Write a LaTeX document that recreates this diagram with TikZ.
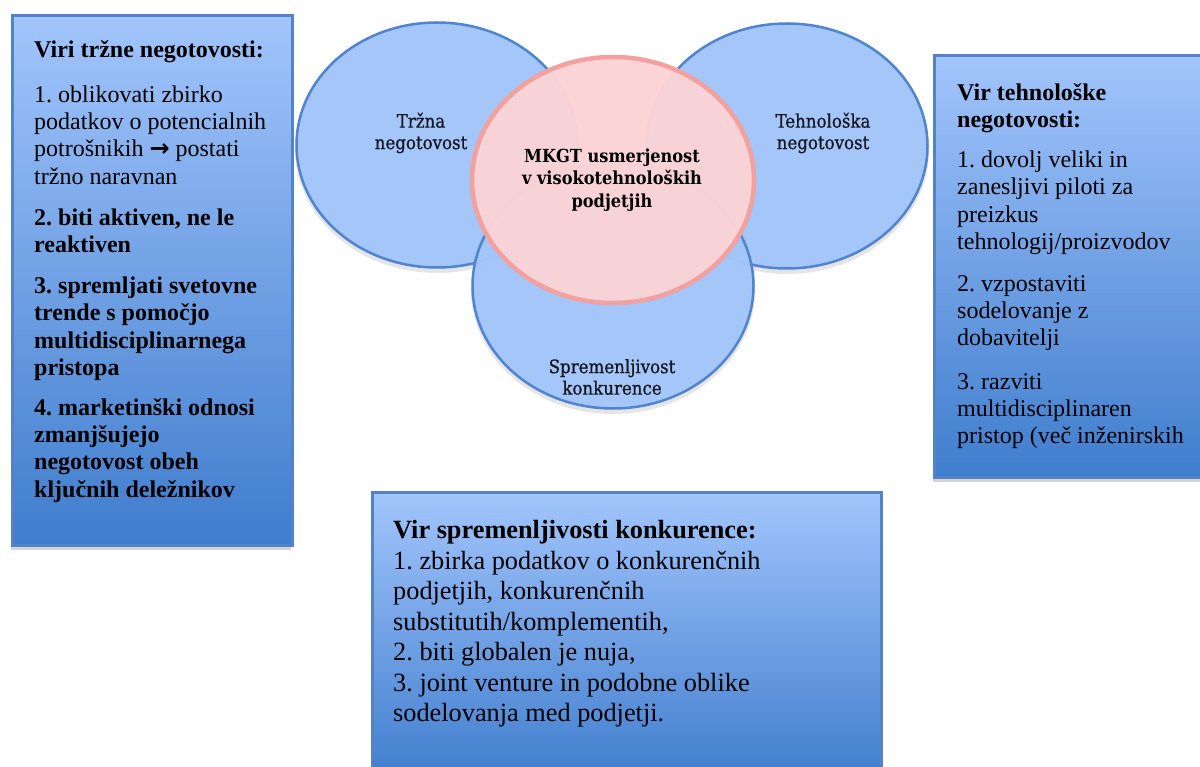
\documentclass[tikz,border=0pt]{standalone}
\usepackage{fontspec}
\setmainfont{Liberation Serif}
\newfontfamily\circfont[FakeBold=0.7]{DejaVu Serif Condensed}
\newfontfamily\corefont{DejaVu Serif Condensed}
\newfontfamily\arrowfont{DejaVu Sans}
\usetikzlibrary{shapes.geometric}
\frenchspacing

\definecolor{boxtop}{HTML}{A2C5FC}
\definecolor{boxbot}{HTML}{3F7DCD}
\definecolor{boxedge}{HTML}{5183C6}
\definecolor{vennfill}{HTML}{A3C6F9}
\definecolor{vennedge}{HTML}{4F84D2}
\definecolor{corefill}{HTML}{FAD3D6}
\definecolor{coreedge}{HTML}{F2A19F}
\definecolor{stripgray}{HTML}{D4D4D4}
\definecolor{labelink}{HTML}{15161F}

\tikzset{
  srcbox/.style={rectangle, draw=boxedge, line width=3pt, top color=boxtop,
    bottom color=boxbot, inner sep=0pt, anchor=north west},
  strip/.style={rectangle, fill=stripgray, inner sep=0pt, anchor=north west},
  srctext/.style={anchor=north west, inner sep=0pt, align=left,
    font=\fontsize{24}{27.2}\selectfont},
  bigtext/.style={anchor=north west, inner sep=0pt, align=left,
    font=\fontsize{26.3}{30.5}\selectfont},
  vennshadow/.style={ellipse, fill=black, fill opacity=0.10, inner sep=0pt,
    minimum width=284pt, minimum height=248pt},
  venn/.style={ellipse, draw=vennedge, line width=2.5pt, fill=vennfill,
    fill opacity=0.98, inner sep=0pt, minimum width=281pt, minimum height=245pt},
  core/.style={ellipse, draw=coreedge, line width=4.5pt, fill=corefill,
    fill opacity=0.975, draw opacity=1, inner sep=0pt, minimum width=282pt, minimum height=246pt},
  vennlabel/.style={align=center, inner sep=0pt, text=labelink,
    font=\circfont\fontsize{18.5}{21.5}\selectfont},
  corelabel/.style={align=center, inner sep=0pt, text=black,
    font=\corefont\bfseries\fontsize{18}{22.5}\selectfont},
}

\begin{document}
\begin{tikzpicture}[x=1pt,y=-1pt]
\useasboundingbox[fill=white] (0,0) rectangle (1200,767);

% soft shadows below the circles
\node[vennshadow] (trznash) at (437,149) {};
\node[vennshadow] (tehnosh) at (787,150) {};
\node[vennshadow] (konksh) at (613,290) {};

% three overlapping circles and the central one
\node[venn] (trzna) at (437,145) {};
\node[venn] (tehno) at (787,146) {};
\node[venn] (konk) at (613,286) {};
\node[core] (mkgt) at (613,180) {};

\node[vennlabel] (trznalbl) at (421,133) {Tržna\\negotovost};
\node[vennlabel] (tehnolbl) at (823,133) {Tehnološka\\negotovost};
\node[vennlabel] (konklbl) at (612,377) {Spremenljivost\\konkurence};
\node[corelabel] (mkgtlbl) at (612,180) {MKGT usmerjenost\\v visokotehnoloških\\podjetjih};

% market uncertainty box
\node[strip, minimum width=280pt, minimum height=5pt] (trzstrip) at (11,545) {};
\node[srcbox, minimum width=280pt, minimum height=530pt] (trzbox) at (11,14) {};
\node[srctext] (trztext) at (34,38) {\strut\textbf{Viri tržne negotovosti:}\\[18pt]
1. oblikovati zbirko\\
podatkov o potencialnih\\
potrošnikih {\arrowfont\bfseries →} postati\\
tržno naravnan\\[14pt]
\textbf{2. biti aktiven, ne le}\\
\textbf{reaktiven}\\[14pt]
\textbf{3. spremljati svetovne}\\
\textbf{trende s pomočjo}\\
\textbf{multidisciplinarnega}\\
\textbf{pristopa}\\[13pt]
\textbf{4. marketinški odnosi}\\
\textbf{zmanjšujejo}\\
\textbf{negotovost obeh}\\
\textbf{ključnih deležnikov}};

% technological uncertainty box
\node[strip, minimum width=280pt, minimum height=5pt] (tehstrip) at (933,477) {};
\node[srcbox, minimum width=290pt, minimum height=422pt] (tehbox) at (933,54) {};
\node[srctext] (tehtext) at (957,81) {\strut\textbf{Vir tehnološke}\\
\textbf{negotovosti:}\\[13pt]
1. dovolj veliki in\\
zanesljivi piloti za\\
preizkus\\
tehnologij/proizvodov\\[15pt]
2. vzpostaviti\\
sodelovanje z\\
dobavitelji\\[16pt]
3. razviti\\
multidisciplinaren\\
pristop (več inženirskih};

% competition volatility box
\node[srcbox, minimum width=509pt, minimum height=290pt] (konbox) at (371,491) {};
\node[bigtext] (kontext) at (393,517) {\strut\textbf{Vir spremenljivosti konkurence:}\\
1. zbirka podatkov o konkurenčnih\\
podjetjih, konkurenčnih\\
substitutih/komplementih,\\
2. biti globalen je nuja,\\
3. joint venture in podobne oblike\\
sodelovanja med podjetji.};
\end{tikzpicture}
\end{document}
